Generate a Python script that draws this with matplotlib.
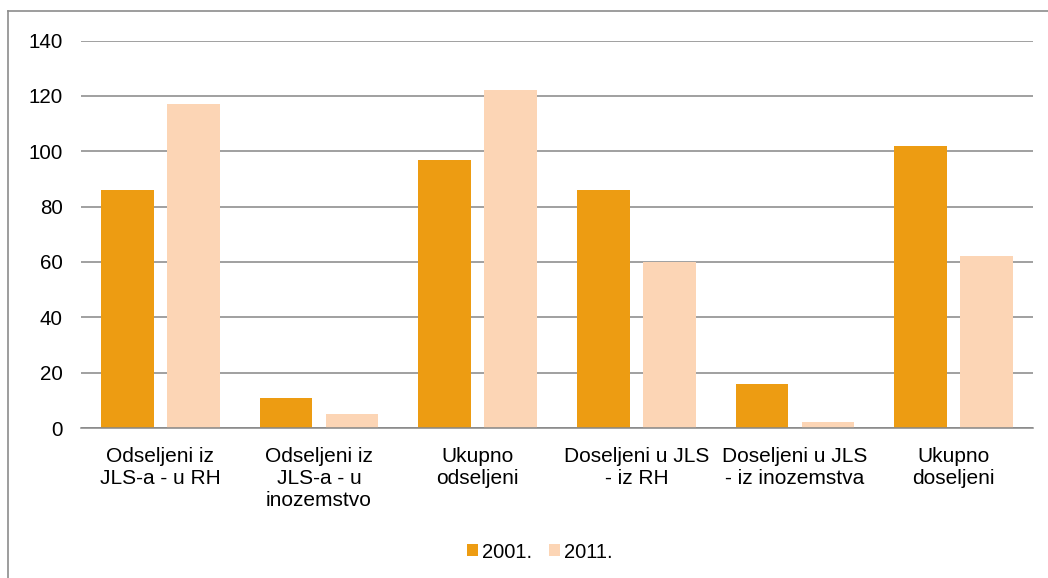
import numpy as np
import matplotlib
matplotlib.use("Agg")
import matplotlib.pyplot as plt
from matplotlib.lines import Line2D

plt.rcParams['font.family'] = ['Liberation Sans', 'DejaVu Sans']

categories = ["Odseljeni iz\nJLS-a - u RH", "Odseljeni iz\nJLS-a - u\ninozemstvo",
              "Ukupno\nodseljeni", "Doseljeni u JLS\n- iz RH",
              "Doseljeni u JLS\n- iz inozemstva", "Ukupno\ndoseljeni"]
series_names = ["2001.", "2011."]
values_2001 = [86, 11, 97, 86, 16, 102]
values_2011 = [117, 5, 122, 60, 2, 62]

colors = ["#ED9C12", "#FCD5B5"]
grid_color = "#868686"

fig = plt.figure(figsize=(10.48, 5.78), dpi=100)
ax = fig.add_axes([81 / 1048, 1 - 428 / 578, 952 / 1048, 387.5 / 578])

x = np.arange(len(categories))
bar_w = 0.333
off = 0.208
ax.bar(x - off, values_2001, width=bar_w, color=colors[0], label=series_names[0], zorder=3)
ax.bar(x + off, values_2011, width=bar_w, color=colors[1], label=series_names[1], zorder=3)

ax.set_xlim(-0.5, len(categories) - 0.5)
ax.set_ylim(0, 140)
ax.set_yticks(np.arange(0, 141, 20))
ax.yaxis.grid(True, color=grid_color, linewidth=1.1, zorder=0)
ax.set_axisbelow(True)
for s in ["top", "right", "left"]:
    ax.spines[s].set_visible(False)
ax.spines["bottom"].set_color(grid_color)
ax.spines["bottom"].set_linewidth(1.1)
ax.spines["bottom"].set_zorder(4)
ax.tick_params(axis="both", length=0, labelsize=14.8, colors="black")
ax.tick_params(axis="y", pad=13)
ax.tick_params(axis="x", pad=14)
ax.set_xticks(x)
ax.set_xticklabels(categories, linespacing=1.18, va="top", fontsize=15)

fig.legend(loc="center", bbox_to_anchor=(540 / 1048, 1 - 552 / 578), ncol=2,
           frameon=False, fontsize=14.5, handlelength=0.55, handleheight=0.55,
           handletextpad=0.2, columnspacing=0.85)

# outer chart frame (left and top edges visible)
fig.add_artist(Line2D([8 / 1048, 8 / 1048], [0, 1 - 11 / 578], color="#8c8c8c", linewidth=1.2))
fig.add_artist(Line2D([8 / 1048, 1], [1 - 11 / 578, 1 - 11 / 578], color="#8c8c8c", linewidth=1.2))

fig.savefig("out.png", dpi=100)
